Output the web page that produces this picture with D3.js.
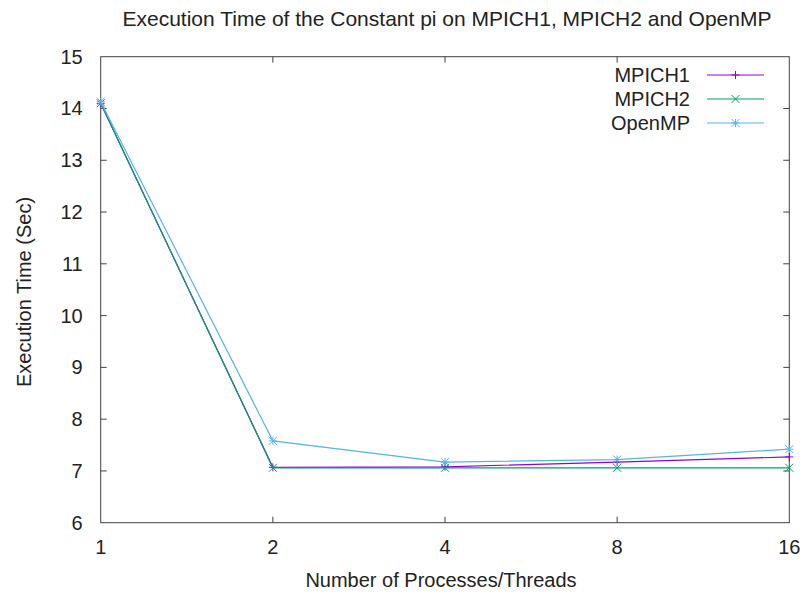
<!DOCTYPE html>
<html>
<head>
<meta charset="utf-8">
<script src="https://cdn.jsdelivr.net/npm/d3@7"></script>
<style>
  body { margin: 0; background: #fff; }
  text { font-family: "Liberation Sans", Arial, sans-serif; fill: #222; }
</style>
</head>
<body>
<svg id="chart"></svg>
<script>
// data
let procs = [1, 2, 4, 8, 16];
let mpich1 = [14.1, 7.07, 7.08, 7.17, 7.27];
let mpich2 = [14.1, 7.06, 7.06, 7.06, 7.06];
let openmp = [14.13, 7.58, 7.17, 7.22, 7.42];
let seriesNames = ["MPICH1", "MPICH2", "OpenMP"];
let yTicks = [6, 7, 8, 9, 10, 11, 12, 13, 14, 15];

let width = 803;
let height = 596;
let margin = {top: 56.7, right: 13.7, bottom: 73.3, left: 100.7};

let svg = d3.select("#chart")
  .attr("width", width)
  .attr("height", height);

let x = d3.scaleLog().base(2)
  .domain([1, 16]).range([margin.left, width - margin.right]);
let y = d3.scaleLinear()
  .domain([6, 15]).range([height - margin.bottom, margin.top]);

let series = [
  {name: seriesNames[0], values: mpich1, color: "#9400d3", marker: "plus"},
  {name: seriesNames[1], values: mpich2, color: "#009e73", marker: "cross"},
  {name: seriesNames[2], values: openmp, color: "#56b4e9", marker: "star"}
];

let axisColor = "#404040";
let tickLen = 6;
let fontSize = 20;

// frame
svg.append("rect")
  .attr("x", x(1)).attr("y", y(15))
  .attr("width", x(16) - x(1)).attr("height", y(6) - y(15))
  .attr("fill", "none").attr("stroke", axisColor).attr("stroke-width", 1);

// y ticks (inward, mirrored)
yTicks.forEach(function(t) {
  if (t > 6 && t < 15) {
    svg.append("line").attr("x1", x(1)).attr("x2", x(1) + tickLen)
      .attr("y1", y(t)).attr("y2", y(t)).attr("stroke", axisColor);
    svg.append("line").attr("x1", x(16)).attr("x2", x(16) - tickLen)
      .attr("y1", y(t)).attr("y2", y(t)).attr("stroke", axisColor);
  }
  svg.append("text")
    .attr("x", x(1) - 18).attr("y", y(t))
    .attr("dy", "0.35em").attr("text-anchor", "end")
    .attr("font-size", fontSize).text(t);
});

// x ticks
procs.forEach(function(p) {
  if (p > 1 && p < 16) {
    svg.append("line").attr("x1", x(p)).attr("x2", x(p))
      .attr("y1", y(6)).attr("y2", y(6) - tickLen).attr("stroke", axisColor);
    svg.append("line").attr("x1", x(p)).attr("x2", x(p))
      .attr("y1", y(15)).attr("y2", y(15) + tickLen).attr("stroke", axisColor);
  }
  svg.append("text")
    .attr("x", x(p)).attr("y", y(6) + 31)
    .attr("text-anchor", "middle")
    .attr("font-size", fontSize).text(p);
});

function drawMarker(g, kind, cx, cy, color) {
  let s = 4;
  let m = g.append("g").attr("stroke", color).attr("stroke-width", 1);
  if (kind === "plus" || kind === "star") {
    m.append("line").attr("x1", cx - s).attr("x2", cx + s).attr("y1", cy).attr("y2", cy);
    m.append("line").attr("x1", cx).attr("x2", cx).attr("y1", cy - s).attr("y2", cy + s);
  }
  if (kind === "cross" || kind === "star") {
    m.append("line").attr("x1", cx - s).attr("x2", cx + s).attr("y1", cy - s).attr("y2", cy + s);
    m.append("line").attr("x1", cx - s).attr("x2", cx + s).attr("y1", cy + s).attr("y2", cy - s);
  }
}

let line = d3.line()
  .x(function(d, i) { return x(procs[i]); })
  .y(function(d) { return y(d); });

series.forEach(function(s) {
  svg.append("path")
    .datum(s.values)
    .attr("d", line)
    .attr("fill", "none")
    .attr("stroke", s.color)
    .attr("stroke-width", 1.2);
  s.values.forEach(function(v, i) {
    drawMarker(svg, s.marker, x(procs[i]), y(v), s.color);
  });
});

// legend
series.forEach(function(s, i) {
  let ly = 75 + i * 24;
  svg.append("text")
    .attr("x", 690).attr("y", ly)
    .attr("dy", "0.35em").attr("text-anchor", "end")
    .attr("font-size", fontSize).text(s.name);
  svg.append("line")
    .attr("x1", 707).attr("x2", 764).attr("y1", ly).attr("y2", ly)
    .attr("stroke", s.color).attr("stroke-width", 1.2);
  drawMarker(svg, s.marker, 735.5, ly, s.color);
});

// title and axis labels
svg.append("text")
  .attr("x", 447).attr("y", 26)
  .attr("text-anchor", "middle").attr("font-size", 21)
  .text("Execution Time of the Constant pi on MPICH1, MPICH2 and OpenMP");

svg.append("text")
  .attr("x", 441).attr("y", 587)
  .attr("text-anchor", "middle").attr("font-size", fontSize)
  .text("Number of Processes/Threads");

svg.append("text")
  .attr("transform", "translate(31," + 292 + ") rotate(-90)")
  .attr("text-anchor", "middle").attr("font-size", fontSize)
  .text("Execution Time (Sec)");
</script>
</body>
</html>
